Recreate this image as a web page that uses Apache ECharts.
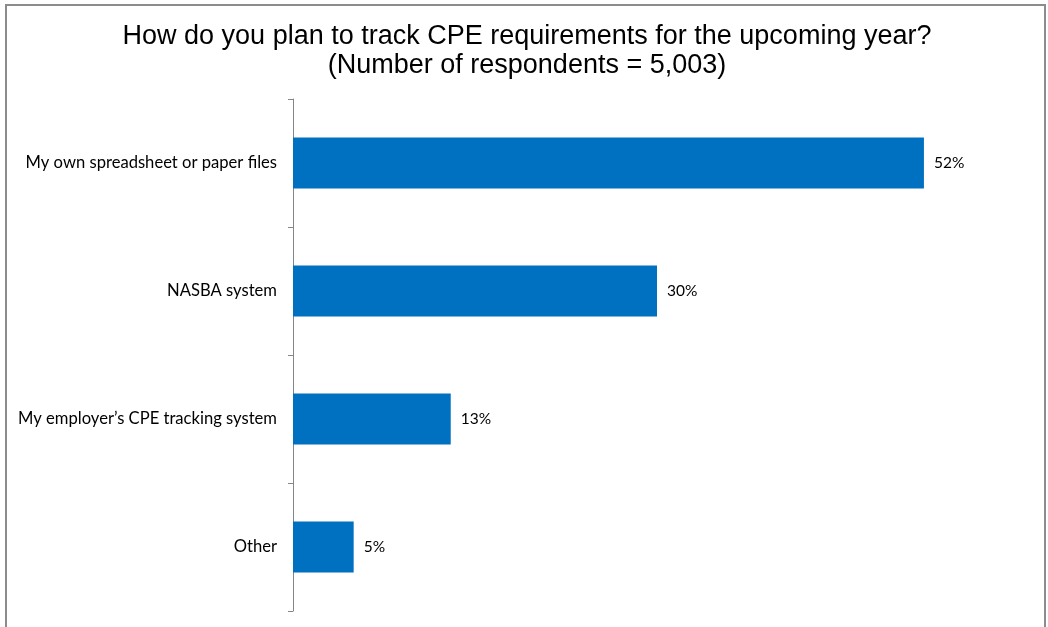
<!DOCTYPE html>
<html>
<head>
<meta charset="utf-8">
<script src="https://cdn.jsdelivr.net/npm/echarts@6/dist/echarts.min.js"></script>
<style>
  html, body { margin: 0; padding: 0; background: #fff; }
  #chart { width: 1048px; height: 627px; }
</style>
</head>
<body>
<div id="chart"></div>
<script>
// Survey answers, top to bottom
const categories = [
  'My own spreadsheet or paper files',
  'NASBA system',
  'My employer\u2019s CPE tracking system',
  'Other'
];
// Share of respondents, percent
const shares = [52, 30, 13, 5];

const titleLines = [
  'How do you plan to track CPE requirements for the upcoming year?',
  '(Number of respondents = 5,003)'
];

const chart = echarts.init(document.getElementById('chart'), null, { renderer: 'canvas' });

chart.setOption({
  animation: false,
  backgroundColor: '#ffffff',
  graphic: [{
    type: 'rect',
    shape: { x: 6, y: 5, width: 1039, height: 640 },
    style: { fill: 'none', stroke: '#8c8c8c', lineWidth: 2 },
    silent: true
  }],
  title: {
    text: titleLines.join('\n'),
    left: 522,
    top: 17,
    textAlign: 'center',
    textStyle: {
      fontFamily: 'Liberation Sans, Arial, sans-serif',
      fontSize: 27,
      fontWeight: 'normal',
      color: '#000',
      lineHeight: 29
    }
  },
  grid: { left: 293, right: 27, top: 99, bottom: 16, containLabel: false },
  xAxis: {
    type: 'value',
    min: 0,
    max: 60,
    show: false
  },
  yAxis: {
    type: 'category',
    data: categories,
    inverse: true,
    axisLine: { show: true, lineStyle: { color: '#868686', width: 1 } },
    axisTick: { show: true, length: 5, lineStyle: { color: '#868686' } },
    axisLabel: {
      margin: 16,
      fontFamily: 'Lato, Carlito, Calibri, sans-serif',
      fontSize: 16.6,
      color: '#000'
    },
    splitLine: { show: false }
  },
  series: [{
    type: 'bar',
    data: shares,
    barWidth: '40%',
    itemStyle: { color: '#0070C0' },
    label: {
      show: true,
      position: 'right',
      distance: 10,
      formatter: '{c}%',
      fontFamily: 'Lato, Carlito, Calibri, sans-serif',
      fontSize: 15.5,
      color: '#000'
    }
  }]
});
</script>
</body>
</html>
